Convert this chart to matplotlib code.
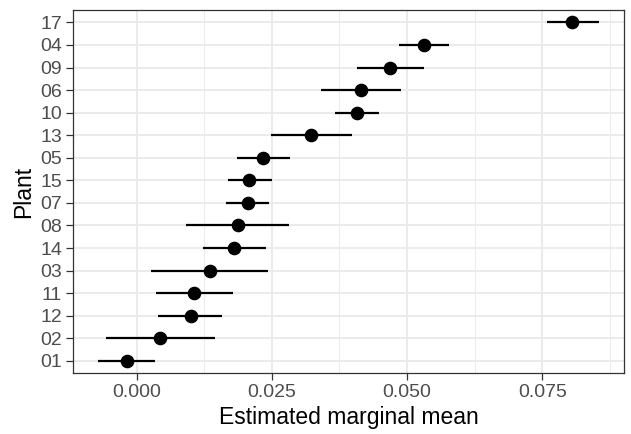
import matplotlib
matplotlib.use("Agg")
import matplotlib.pyplot as plt
import numpy as np

# plants in plotted order (bottom to top)
plants = ["01", "02", "12", "11", "03", "14", "08", "07",
          "15", "05", "13", "10", "06", "09", "04", "17"]
emmean = [-0.0018, 0.0043, 0.0100, 0.0106, 0.0136, 0.0180, 0.0187, 0.0205,
          0.0208, 0.0234, 0.0322, 0.0408, 0.0414, 0.0468, 0.0531, 0.0806]
lower = [-0.0071, -0.0057, 0.0040, 0.0035, 0.0026, 0.0123, 0.0092, 0.0165,
         0.0168, 0.0185, 0.0248, 0.0367, 0.0341, 0.0408, 0.0486, 0.0758]
upper = [0.0034, 0.0144, 0.0158, 0.0178, 0.0243, 0.0239, 0.0281, 0.0245,
         0.0250, 0.0283, 0.0398, 0.0449, 0.0488, 0.0531, 0.0577, 0.0855]
xticks = [0.000, 0.025, 0.050, 0.075]

plt.rcParams["font.family"] = ["Liberation Sans", "DejaVu Sans"]

fig = plt.figure(figsize=(6.31, 4.34), dpi=100)
ax = fig.add_axes([0.1162, 0.1399, 0.8727, 0.8371])

y = np.arange(1, len(plants) + 1)
ax.hlines(y, lower, upper, color="black", lw=1.6, zorder=3)
ax.plot(emmean, y, "o", color="black", ms=8.8, zorder=4)

lo, hi = min(lower), max(upper)
pad = (hi - lo) * 0.05
ax.set_xlim(lo - pad, hi + pad)
ax.set_ylim(0.45, len(plants) + 0.55)

ax.set_xticks(xticks)
ax.set_xticklabels([f"{t:.3f}" for t in xticks])
ax.set_xticks([0.0125, 0.0375, 0.0625, 0.0875], minor=True)
ax.set_yticks(y)
ax.set_yticklabels(plants)

ax.grid(True, which="major", color="#EBEBEB", lw=1.4, zorder=0)
ax.grid(True, which="minor", axis="x", color="#EBEBEB", lw=0.7, zorder=0)
ax.set_axisbelow(True)

for s in ax.spines.values():
    s.set_color("#333333")
    s.set_linewidth(0.9)

ax.tick_params(which="major", length=5, width=0.9, color="#333333",
               labelcolor="#4D4D4D", labelsize=14, pad=3)
ax.tick_params(which="minor", length=0)

ax.set_xlabel("Estimated marginal mean", fontsize=16.5, labelpad=3)
ax.set_ylabel("Plant", fontsize=16.5, labelpad=4)

fig.savefig("out.png", dpi=100)
